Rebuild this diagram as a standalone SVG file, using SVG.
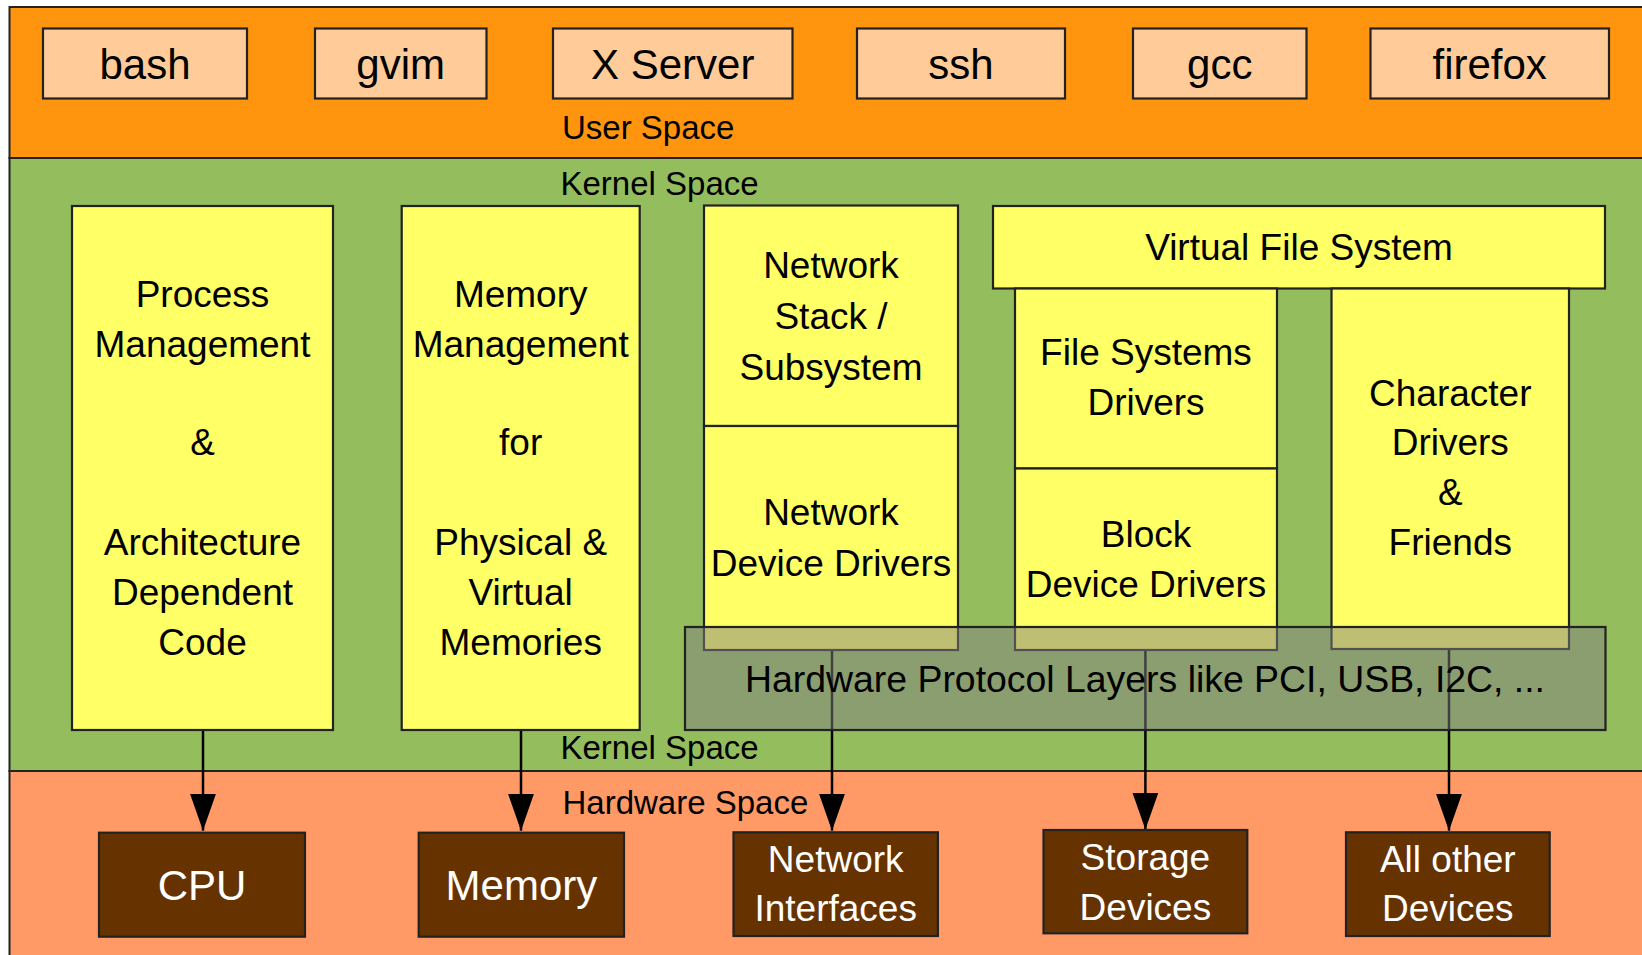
<svg xmlns="http://www.w3.org/2000/svg" width="1642" height="955" viewBox="0 0 1642 955">
<defs>
<style>
text{font-family:"Liberation Sans",Arial,sans-serif;fill:#000;}
.region{stroke:#222;stroke-width:2;}
.ubox{fill:#ffcc99;stroke:#222;stroke-width:2.2;}
.kbox{fill:#ffff66;stroke:#222;stroke-width:2.2;}
.hbox{fill:#663300;stroke:#222;stroke-width:2.2;}
.over{fill:#7f7f7f;fill-opacity:0.5;stroke:#222;stroke-width:2.2;}
.lbl{font-size:33px;}
.ut{font-size:42px;text-anchor:middle;}
.kt{font-size:37px;text-anchor:middle;}
.wide{font-size:37.4px;}
.ht{font-size:37px;text-anchor:middle;fill:#fff;}
.hbig{font-size:42px;text-anchor:middle;fill:#fff;}
.conn{stroke:#000;stroke-width:2.5;fill:none;marker-end:url(#arr);}
</style>
<marker id="arr" markerUnits="userSpaceOnUse" viewBox="0 0 37 26" refX="37" refY="13" markerWidth="37" markerHeight="26" orient="auto">
<path d="M0,0 L37,13 L0,26 Z" fill="#000"/>
</marker>
</defs>
<rect width="1642" height="955" fill="#fff"/>

<g id="user-space">
<rect class="region" x="9.5" y="7" width="1640" height="151" fill="#ff950e"/>
<text class="lbl" x="562" y="138.5">User Space</text>
</g>
<g id="kernel-space">
<rect class="region" x="9.5" y="158" width="1640" height="613" fill="#94bd5e"/>
<text class="lbl" x="560.5" y="194.5">Kernel Space</text>
<text class="lbl" x="560.5" y="758.5">Kernel Space</text>
</g>
<g id="hardware-space">
<rect class="region" x="9.5" y="771" width="1640" height="190" fill="#ff9966"/>
<text class="lbl" x="562.5" y="814">Hardware Space</text>
</g>

<g id="bash"><rect class="ubox" x="43" y="28.5" width="204" height="70"/><text class="ut" x="145" y="78.5">bash</text></g>
<g id="gvim"><rect class="ubox" x="315" y="28.5" width="171.5" height="70"/><text class="ut" x="400.7" y="78.5">gvim</text></g>
<g id="xserver"><rect class="ubox" x="553" y="28.5" width="239.5" height="70"/><text class="ut" x="672.7" y="78.5">X Server</text></g>
<g id="ssh"><rect class="ubox" x="857" y="28.5" width="208" height="70"/><text class="ut" x="961" y="78.5">ssh</text></g>
<g id="gcc"><rect class="ubox" x="1133" y="28.5" width="173.5" height="70"/><text class="ut" x="1219.8" y="78.5">gcc</text></g>
<g id="firefox"><rect class="ubox" x="1370.5" y="28.5" width="238.5" height="70"/><text class="ut" x="1489.7" y="78.5">firefox</text></g>

<g id="connectors">
<line class="conn" x1="203" y1="730" x2="203" y2="830.7"/>
<line class="conn" x1="521" y1="730" x2="521" y2="830.7"/>
<line class="conn" x1="832" y1="650" x2="832" y2="830.7"/>
<line class="conn" x1="1145.4" y1="650" x2="1145.4" y2="829.5"/>
<line class="conn" x1="1449" y1="649" x2="1449" y2="830.7"/>
</g>

<g id="process-mgmt">
<rect class="kbox" x="72" y="206" width="261" height="524"/>
<text class="kt" x="202.5" y="306.7">Process</text>
<text class="kt" x="202.5" y="356.7">Management</text>
<text class="kt" x="202.5" y="455">&amp;</text>
<text class="kt" x="202.5" y="555">Architecture</text>
<text class="kt" x="202.5" y="605">Dependent</text>
<text class="kt" x="202.5" y="655">Code</text>
</g>
<g id="memory-mgmt">
<rect class="kbox" x="401.7" y="206" width="238" height="524"/>
<text class="kt" x="520.7" y="306.7">Memory</text>
<text class="kt" x="520.7" y="356.7">Management</text>
<text class="kt" x="520.7" y="455">for</text>
<text class="kt" x="520.7" y="555">Physical &amp;</text>
<text class="kt" x="520.7" y="605">Virtual</text>
<text class="kt" x="520.7" y="655">Memories</text>
</g>
<g id="network-stack">
<rect class="kbox" x="704" y="205.5" width="254" height="220.5"/>
<text class="kt" x="831" y="278.3">Network</text>
<text class="kt" x="831" y="329">Stack /</text>
<text class="kt" x="831" y="380">Subsystem</text>
</g>
<g id="network-drivers">
<rect class="kbox" x="704" y="426" width="254" height="224"/>
<text class="kt" x="831" y="525">Network</text>
<text class="kt" x="831" y="576">Device Drivers</text>
</g>
<g id="vfs">
<rect class="kbox" x="993" y="206" width="612" height="82.5"/>
<text class="kt" x="1299" y="260">Virtual File System</text>
</g>
<g id="fs-drivers">
<rect class="kbox" x="1015" y="288.5" width="262" height="180"/>
<text class="kt" x="1146" y="365">File Systems</text>
<text class="kt" x="1146" y="415">Drivers</text>
</g>
<g id="block-drivers">
<rect class="kbox" x="1015" y="468.5" width="262" height="181.5"/>
<text class="kt" x="1146" y="546.7">Block</text>
<text class="kt" x="1146" y="596.7">Device Drivers</text>
</g>
<g id="char-drivers">
<rect class="kbox" x="1331.5" y="288.5" width="237.5" height="360.5"/>
<text class="kt" x="1450.3" y="406">Character</text>
<text class="kt" x="1450.3" y="455">Drivers</text>
<text class="kt" x="1450.3" y="505">&amp;</text>
<text class="kt" x="1450.3" y="555">Friends</text>
</g>
<g id="hw-protocol">
<rect class="over" x="685" y="627" width="920.5" height="103"/>
<text class="kt wide" x="1145" y="691.7">Hardware Protocol Layers like PCI, USB, I2C, ...</text>
</g>

<g id="cpu">
<rect class="hbox" x="99" y="832.7" width="206" height="104"/>
<text class="hbig" x="202" y="899.5">CPU</text>
</g>
<g id="memory">
<rect class="hbox" x="418.7" y="832.7" width="205.3" height="104"/>
<text class="hbig" x="521.4" y="899.5">Memory</text>
</g>
<g id="network-interfaces">
<rect class="hbox" x="733.5" y="832.3" width="204.4" height="103.7"/>
<text class="ht" x="835.7" y="871.7">Network</text>
<text class="ht" x="835.7" y="920.7">Interfaces</text>
</g>
<g id="storage-devices">
<rect class="hbox" x="1043.5" y="830" width="203.8" height="103.3"/>
<text class="ht" x="1145.4" y="869.5">Storage</text>
<text class="ht" x="1145.4" y="919.7">Devices</text>
</g>
<g id="other-devices">
<rect class="hbox" x="1346" y="832.3" width="203.7" height="103.7"/>
<text class="ht" x="1447.8" y="871.7">All other</text>
<text class="ht" x="1447.8" y="920.7">Devices</text>
</g>
</svg>
